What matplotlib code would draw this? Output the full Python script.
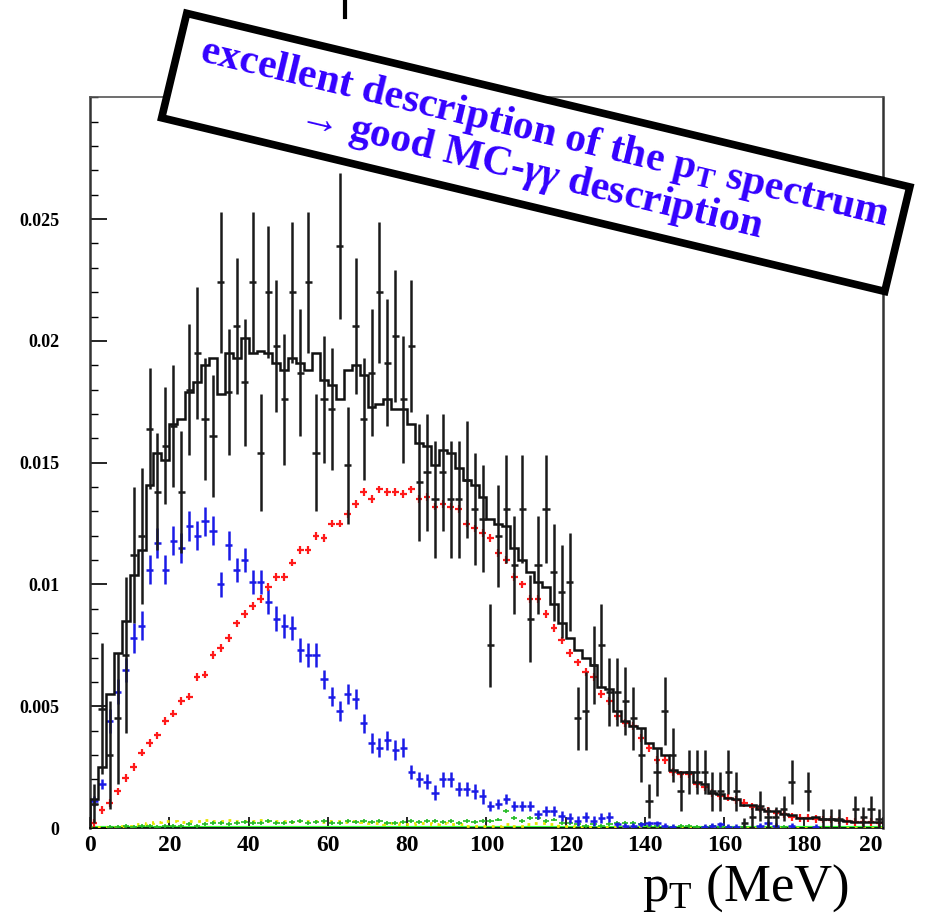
import numpy as np
import matplotlib.pyplot as plt
from matplotlib.lines import Line2D

plt.rcParams['font.family'] = ['Liberation Serif', 'DejaVu Serif']
plt.rcParams['mathtext.fontset'] = 'custom'
plt.rcParams['mathtext.rm'] = 'Liberation Serif'
plt.rcParams['mathtext.it'] = 'Liberation Serif:italic:bold'
plt.rcParams['mathtext.bf'] = 'Liberation Serif:bold'

# 2 MeV bins from 0 to 200 MeV
edges = np.arange(0, 201, 2)
centers = edges[:-1] + 1

# measured data (black points) and their errors
data_val = [0.0010, 0.0049, 0.0030, 0.0045, 0.0071, 0.0112, 0.0120, 0.0164, 0.0138, 0.0157,
            0.0165, 0.0138, 0.0180, 0.0195, 0.0168, 0.0161, 0.0224, 0.0179, 0.0206, 0.0183,
            0.0224, 0.0154, 0.0220, 0.0198, 0.0176, 0.0220, 0.0187, 0.0224, 0.0154, 0.0176,
            0.0172, 0.0239, 0.0149, 0.0206, 0.0168, 0.0187, 0.0220, 0.0191, 0.0202, 0.0176,
            0.0198, 0.0142, 0.0146, 0.0135, 0.0146, 0.0135, 0.0135, 0.0143, 0.0131, 0.0127,
            0.0075, 0.0120, 0.0131, 0.0108, 0.0131, 0.0086, 0.0108, 0.0131, 0.0105, 0.0097,
            0.0101, 0.0045, 0.0048, 0.0067, 0.0075, 0.0056, 0.0056, 0.0052, 0.0045, 0.0030,
            0.0011, 0.0023, 0.0048, 0.0030, 0.0015, 0.0023, 0.0023, 0.0023, 0.0015, 0.0015,
            0.0023, 0.0015, 0.0002, 0.00046, 0.0009, 0.00046, 0.00046, 0.0008, 0.0019, 0.0,
            0.0015, 0.0, 0.00038, 0.00038, 0.00038, 0.0, 0.0008, 0.00046, 0.0008, 0.00038]
data_err = [0.0008, 0.0027, 0.0022, 0.0027, 0.0032, 0.0028, 0.0028, 0.0025, 0.0024, 0.0024,
            0.0025, 0.0025, 0.0027, 0.0027, 0.0025, 0.0025, 0.0029, 0.0026, 0.0028, 0.0026,
            0.0029, 0.0024, 0.0027, 0.0027, 0.0027, 0.0029, 0.0026, 0.0029, 0.0024, 0.0026,
            0.0025, 0.0030, 0.0024, 0.0028, 0.0025, 0.0026, 0.0029, 0.0026, 0.0027, 0.0026,
            0.0027, 0.0024, 0.0024, 0.0024, 0.0024, 0.0024, 0.0024, 0.0024, 0.0023, 0.0022,
            0.0017, 0.0021, 0.0022, 0.0020, 0.0022, 0.0018, 0.0020, 0.0022, 0.0020, 0.0019,
            0.0020, 0.0013, 0.0016, 0.0016, 0.0017, 0.0014, 0.0014, 0.0014, 0.0013, 0.0011,
            0.0007, 0.0010, 0.0014, 0.0011, 0.0008, 0.0009, 0.0009, 0.0009, 0.0008, 0.0008,
            0.0009, 0.0008, 0.0002, 0.0004, 0.0006, 0.0004, 0.0004, 0.0005, 0.0009, 0.0,
            0.0008, 0.0, 0.0004, 0.0004, 0.0004, 0.0, 0.0005, 0.0004, 0.0005, 0.0004]

# total MC (black histogram)
mc_val = [0.0012, 0.0025, 0.0055, 0.0072, 0.0085, 0.0104, 0.0114, 0.0141, 0.0154, 0.0151,
          0.0166, 0.0168, 0.0179, 0.0183, 0.0190, 0.0193, 0.0178, 0.0195, 0.0193, 0.0201,
          0.0195, 0.0196, 0.0195, 0.0191, 0.0188, 0.0193, 0.0191, 0.0188, 0.0195, 0.0184,
          0.0182, 0.0176, 0.0188, 0.0190, 0.0186, 0.0173, 0.0174, 0.0176, 0.0172, 0.0172,
          0.0166, 0.0158, 0.0157, 0.0149, 0.0155, 0.0154, 0.0148, 0.0143, 0.0141, 0.0136,
          0.0127, 0.0125, 0.0124, 0.0115, 0.0110, 0.0105, 0.0101, 0.0099, 0.0092, 0.0084,
          0.0078, 0.0073, 0.0070, 0.0067, 0.0058, 0.0057, 0.0048, 0.0044, 0.0042, 0.0041,
          0.0035, 0.0033, 0.0030, 0.0024, 0.0023, 0.0023, 0.0019, 0.0018, 0.00145, 0.0014,
          0.00125, 0.0012, 0.00094, 0.00094, 0.0008, 0.0007, 0.00068, 0.00057, 0.00055, 0.00042,
          0.00042, 0.00046, 0.00036, 0.00036, 0.00033, 0.0003, 0.00026, 0.00026, 0.00024, 0.00024]

# red component
red_val = [0.0002, 0.00074, 0.00104, 0.0015, 0.00205, 0.0025, 0.0031, 0.0035, 0.0038, 0.0044,
           0.0047, 0.0052, 0.0054, 0.0062, 0.0063, 0.0071, 0.0074, 0.0078, 0.0084, 0.0088,
           0.0091, 0.0094, 0.0099, 0.0103, 0.0103, 0.0109, 0.0114, 0.0114, 0.0120, 0.0119,
           0.0125, 0.0125, 0.0129, 0.0133, 0.0138, 0.0135, 0.0139, 0.0138, 0.0138, 0.0137,
           0.0139, 0.0135, 0.0136, 0.0132, 0.0133, 0.0132, 0.0131, 0.0125, 0.0123, 0.0121,
           0.0119, 0.0113, 0.0110, 0.0103, 0.0100, 0.0094, 0.0094, 0.0088, 0.0082, 0.0077,
           0.0072, 0.0068, 0.0064, 0.0062, 0.0055, 0.0052, 0.0046, 0.0043, 0.0042, 0.0037,
           0.0033, 0.0028, 0.0028, 0.0023, 0.0022, 0.0022, 0.0018, 0.0017, 0.00145, 0.0013,
           0.00125, 0.00115, 0.00104, 0.00088, 0.00083, 0.0007, 0.00063, 0.00056, 0.00046, 0.00042,
           0.0004, 0.00037, 0.00035, 0.00035, 0.00031, 0.0003, 0.00026, 0.00026, 0.00024, 0.00022]

# blue component
blue_val = [0.0011, 0.0018, 0.0044, 0.0056, 0.0065, 0.0078, 0.0083, 0.0106, 0.0117, 0.0106,
            0.0118, 0.0115, 0.0124, 0.0120, 0.0126, 0.0122, 0.0100, 0.0116, 0.0106, 0.0110,
            0.0101, 0.0101, 0.0093, 0.0086, 0.0083, 0.0082, 0.0073, 0.0071, 0.0071, 0.0061,
            0.0054, 0.0048, 0.0055, 0.0053, 0.0043, 0.0035, 0.0033, 0.0036, 0.0032, 0.0033,
            0.0023, 0.0020, 0.0019, 0.00145, 0.0020, 0.0020, 0.0016, 0.0016, 0.0015, 0.0013,
            0.0009, 0.0010, 0.0012, 0.0009, 0.0009, 0.0009, 0.00056, 0.0007, 0.0007, 0.0005,
            0.0004, 0.0003, 0.00045, 0.0003, 0.0004, 0.00045, 0.00015, 0.0001, 0.0001, 0.00015,
            0.0002, 0.0002, 0.0001, 0.00005, 0.0, 0.0, 0.0, 0.00005, 0.0001, 0.00015,
            0.00005, 0.00005, 0.0, 0.0, 0.0001, 0.0002, 0.0001, 0.0, 0.0001, 0.0,
            0.0, 0.00005, 0.0, 0.0, 0.0, 0.0, 0.0, 0.0, 0.0, 0.0]
blue_err = [0.0002, 0.0002, 0.0005, 0.0005, 0.0005, 0.0006, 0.0006, 0.0006, 0.0006, 0.0006,
            0.0006, 0.0006, 0.0006, 0.0006, 0.0006, 0.0006, 0.0005, 0.0006, 0.0005, 0.0005,
            0.0005, 0.0005, 0.0005, 0.0005, 0.0005, 0.0005, 0.0005, 0.0005, 0.0005, 0.0004,
            0.0004, 0.0004, 0.0004, 0.0004, 0.0004, 0.0004, 0.0004, 0.0004, 0.0004, 0.0004,
            0.0003, 0.0003, 0.0003, 0.0003, 0.0003, 0.0003, 0.0003, 0.0003, 0.0003, 0.0003,
            0.0002, 0.0002, 0.0002, 0.0002, 0.0002, 0.0002, 0.0002, 0.0002, 0.0002, 0.0002,
            0.0002, 0.0002, 0.0002, 0.0002, 0.0002, 0.0002, 0.0001, 0.0001, 0.0001, 0.0001,
            0.0001, 0.0001, 0.0001, 0.0001, 0.0, 0.0, 0.0, 0.0001, 0.0001, 0.0001,
            0.0001, 0.0001, 0.0, 0.0, 0.0001, 0.0001, 0.0001, 0.0, 0.0001, 0.0,
            0.0, 0.0001, 0.0, 0.0, 0.0, 0.0, 0.0, 0.0, 0.0, 0.0]

# small green and yellow components near zero
green_val = [0.0, 0.0, 0.00005, 0.00005, 0.0001, 0.00005, 0.0001, 0.0001, 0.00005, 0.0001,
             0.0001, 0.0001, 0.00015, 0.0001, 0.00015, 0.0002, 0.0002, 0.00015, 0.0002, 0.00025,
             0.0002, 0.0002, 0.0003, 0.0002, 0.0002, 0.00025, 0.0003, 0.0002, 0.00025, 0.0003,
             0.0002, 0.0002, 0.0003, 0.00025, 0.0003, 0.00025, 0.0003, 0.0002, 0.0002, 0.00025,
             0.0003, 0.00025, 0.0003, 0.0003, 0.00025, 0.0003, 0.0002, 0.0003, 0.00025, 0.0003,
             0.0003, 0.00035, 0.0007, 0.0004, 0.0003, 0.0004, 0.0004, 0.0003, 0.00035, 0.0002,
             0.0002, 0.00015, 0.0001, 0.00015, 0.0001, 0.00015, 0.0002, 0.0002, 0.0002, 0.00015,
             0.0001, 0.0001, 0.00005, 0.00005, 0.0001, 0.0001, 0.00005, 0.00005, 0.0001, 0.00005,
             0.00005, 0.0, 0.00005, 0.0, 0.00005, 0.0, 0.0, 0.00005, 0.0, 0.0,
             0.0, 0.0, 0.0, 0.0, 0.0, 0.0, 0.0, 0.0, 0.0, 0.0]
yellow_val = [0.00005, 0.00005, 0.00005, 0.00005, 0.0001, 0.0001, 0.00015, 0.0002, 0.00025, 0.0003,
              0.0003, 0.00025, 0.0003, 0.0003, 0.00035, 0.0003, 0.0003, 0.00035, 0.0003, 0.0003,
              0.0003, 0.00035, 0.0003, 0.0003, 0.0003, 0.00025, 0.0003, 0.0003, 0.0003, 0.00025,
              0.0003, 0.0003, 0.00025, 0.0003, 0.00025, 0.0002, 0.0002, 0.00015, 0.0002, 0.00015,
              0.00015, 0.0002, 0.0002, 0.00015, 0.0002, 0.00015, 0.00015, 0.0001, 0.0001, 0.0001,
              0.0001, 0.0001, 0.00015, 0.0001, 0.0001, 0.00015, 0.0002, 0.0002, 0.00015, 0.0001,
              0.0001, 0.00005, 0.00005, 0.00005, 0.00005, 0.00005, 0.00005, 0.00005, 0.00005, 0.00005,
              0.00005, 0.00005, 0.00005, 0.00005, 0.00005, 0.00005, 0.0, 0.0, 0.0, 0.0,
              0.0, 0.0, 0.0, 0.0, 0.0, 0.0, 0.0, 0.0, 0.0, 0.0,
              0.0, 0.0, 0.0, 0.0, 0.0, 0.0, 0.0, 0.0, 0.0, 0.0]

xticks = [0, 20, 40, 60, 80, 100, 120, 140, 160, 180, 200]
xtick_labels = ['0', '20', '40', '60', '80', '100', '120', '140', '160', '180', '20']
yticks = [0, 0.005, 0.01, 0.015, 0.02, 0.025]
ytick_labels = ['0', '0.005', '0.01', '0.015', '0.02', '0.025']

data_val = np.array(data_val)
data_err = np.array(data_err)
blue_val = np.array(blue_val)
blue_err = np.array(blue_err)
green_val = np.array(green_val)

fig = plt.figure(figsize=(9.35, 9.18), dpi=100)
ax = fig.add_axes([0.0963, 0.098, 0.848, 0.796])

# near-zero components
ax.axhline(0.00002, color='#33ff33', lw=3, zorder=2)
ax.stairs(yellow_val, edges, color='#e6e600', lw=2, ls=(0, (1, 2)), zorder=3)
g = green_val > 0
ax.errorbar(centers[g], green_val[g], xerr=0.8, yerr=0.00008, fmt='none',
            ecolor='#22bb22', elinewidth=1.2, capsize=0, zorder=3)

# blue and red components
b = blue_val > 0
ax.errorbar(centers[b], blue_val[b], xerr=0.9, yerr=blue_err[b], fmt='none',
            ecolor='#1a1ae6', elinewidth=1.8, capsize=0, zorder=4)
ax.errorbar(centers, red_val, xerr=0.85, yerr=0.00016, fmt='none',
            ecolor='#ff1a1a', elinewidth=1.6, capsize=0, zorder=5)

# total MC histogram and data
ax.stairs(mc_val, edges, color='#111111', lw=1.8, zorder=6)
d = data_val > 0
ax.errorbar(centers[d], data_val[d], xerr=0.9, yerr=data_err[d], fmt='none',
            ecolor='#1a1a1a', elinewidth=1.8, capsize=0, zorder=7)

ax.set_xlim(0, 200)
ax.set_ylim(0, 0.030)
ax.set_xticks(xticks)
ax.set_xticklabels(xtick_labels, fontsize=17, fontweight='bold')
ax.set_yticks(yticks)
ax.set_yticklabels(ytick_labels, fontsize=13, fontweight='bold')
ax.set_yticks(np.arange(0, 0.0301, 0.001), minor=True)
ax.get_xticklabels()[-1].set_horizontalalignment('right')
ax.tick_params(axis='x', direction='in', length=8, width=1.2, pad=5, top=False)
ax.tick_params(axis='y', which='major', direction='in', length=12, width=1.2, pad=22, right=False)
ax.tick_params(axis='y', which='minor', direction='in', length=6, width=1.0, right=False)
for s in ['left', 'right']:
    ax.spines[s].set_linewidth(1.8)
    ax.spines[s].set_color('#333333')
ax.spines['top'].set_linewidth(1.2)
ax.spines['top'].set_color('#555555')
ax.spines['bottom'].set_linewidth(1.2)

# axis title
fig.text(0.797, 0.019, r'p$_\mathrm{T}$ (MeV)', fontsize=38, ha='center', va='baseline')

# fragment of the slide title at the very top
fig.add_artist(Line2D([0.369, 0.369], [1.0, 0.981], color='k', lw=3))

# rotated comment box
fig.text(0.573, 0.834,
         ' excellent description of the $\\mathbf{p}_\\mathbf{T}$ spectrum \n'
         '\u2192 good MC-$\\gamma\\gamma$ description',
         fontsize=30, fontweight='bold', color='#3300ff', rotation=-13.5,
         rotation_mode='anchor', ha='center', va='center', multialignment='center',
         linespacing=0.95,
         bbox=dict(boxstyle='square,pad=0.3', fc='white', ec='black', lw=5.5),
         zorder=10)

fig.savefig('out.png', dpi=100)
